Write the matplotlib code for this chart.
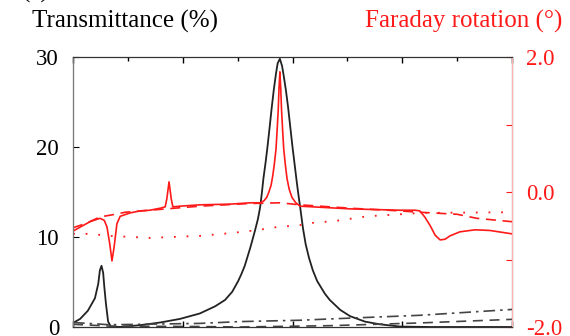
import numpy as np
import matplotlib
matplotlib.use("Agg")
import matplotlib.pyplot as plt
from matplotlib.ticker import MultipleLocator

plt.rcParams['font.family'] = ['Liberation Serif', 'DejaVu Serif']

# transmittance, solid black
x_t = [0.00, 0.13, 0.27, 0.40, 0.46, 0.49, 0.52, 0.55, 0.57, 0.60, 0.64, 0.69,
       0.86, 1.22, 1.59, 1.95, 2.31, 2.59, 2.77, 2.90, 3.01, 3.07, 3.13, 3.18,
       3.23, 3.28, 3.32, 3.37, 3.41, 3.44, 3.47, 3.51, 3.54, 3.58, 3.62, 3.66,
       3.70, 3.73, 3.77, 3.81, 3.84, 3.88, 3.92, 3.96, 4.00, 4.04, 4.08, 4.11,
       4.14, 4.19, 4.24, 4.30, 4.37, 4.45, 4.59, 4.68, 4.87, 5.05, 5.32, 5.59,
       5.96, 6.51, 7.23, 8.00]
trans = [0.45, 0.9, 1.8, 3.2, 4.8, 6.3, 6.8, 6.0, 4.5, 2.6, 0.6, 0.05,
         0.0, 0.2, 0.5, 0.9, 1.5, 2.3, 3.0, 3.9, 5.1, 5.9, 6.8, 7.8,
         8.8, 9.9, 10.8, 12.0, 13.3, 14.8, 16.5, 18.3, 19.8, 22.0, 24.3, 26.4,
         28.2, 29.3, 29.8, 29.0, 27.9, 26.3, 24.4, 22.2, 20.0, 18.0, 16.0, 14.6,
         13.3, 11.0, 9.2, 7.7, 6.3, 5.1, 3.7, 3.0, 1.9, 1.2, 0.6, 0.3,
         0.05, 0.0, 0.0, 0.0]

# transmittance, reference curves
x_t_ref = [0.00, 0.67, 2.31, 3.04, 4.14, 4.70, 6.32, 8.00]
trans_dash = [0.3, 0.1, 0.05, 0.0, 0.1, 0.15, 0.45, 0.85]
trans_dashdot = [0.5, 0.25, 0.4, 0.6, 0.75, 0.9, 1.3, 1.95]

# faraday rotation, solid red
x_f = [0.00, 0.13, 0.31, 0.49, 0.57, 0.62, 0.67, 0.71, 0.75, 0.80, 0.86, 1.04,
       1.22, 1.40, 1.59, 1.68, 1.71, 1.75, 1.79, 1.82, 1.95, 2.31, 2.86, 3.23,
       3.41, 3.48, 3.53, 3.57, 3.61, 3.64, 3.67, 3.70, 3.72, 3.74, 3.755, 3.77,
       3.785, 3.80, 3.82, 3.84, 3.87, 3.90, 3.94, 3.99, 4.06, 4.14, 5.05, 5.96,
       6.23, 6.32, 6.41, 6.51, 6.60, 6.69, 6.78, 6.87, 7.05, 7.33, 7.60, 8.00]
rot = [-0.58, -0.52, -0.44, -0.39, -0.42, -0.52, -0.77, -1.02, -0.81, -0.47, -0.36, -0.31,
       -0.28, -0.27, -0.24, -0.22, -0.10, 0.15, -0.10, -0.22, -0.21, -0.19, -0.18, -0.16,
       -0.16, -0.13, -0.08, 0.00, 0.10, 0.24, 0.42, 0.64, 0.92, 1.22, 1.55, 1.78,
       1.55, 1.22, 0.92, 0.64, 0.40, 0.20, 0.04, -0.08, -0.16, -0.21, -0.25, -0.27,
       -0.27, -0.28, -0.37, -0.50, -0.64, -0.71, -0.70, -0.65, -0.59, -0.56, -0.57, -0.62]

x_f_dash = [0.00, 0.22, 0.49, 0.77, 0.95, 1.40, 2.31, 3.23, 3.77, 4.14, 5.05, 5.96,
            6.32, 7.00, 7.36, 8.00]
rot_dash = [-0.53, -0.47, -0.37, -0.33, -0.30, -0.27, -0.21, -0.17, -0.16, -0.19, -0.24, -0.28,
            -0.30, -0.33, -0.39, -0.44]

x_f_dot = [0.00, 0.31, 0.67, 1.40, 2.31, 2.86, 3.41, 3.59, 4.14, 4.32, 4.77, 5.36,
           5.96, 6.32, 8.00]
rot_dot = [-0.62, -0.62, -0.65, -0.68, -0.65, -0.61, -0.56, -0.53, -0.49, -0.46, -0.43, -0.36,
           -0.33, -0.31, -0.30]

red = '#ff1a1a'
black = '#222222'
fs_title = 18
fs_tick = 16.5

fig = plt.figure(figsize=(5.7, 3.36), dpi=100)
ax = fig.add_axes([73/570, 1-327/336, 439/570, 270/336])
ax2 = ax.twinx()

ax.plot(x_t, trans, color=black, lw=1.3)
ax.plot(x_t_ref, trans_dash, color='#444444', lw=1.2, ls=(0, (6, 4)))
ax.plot(x_t_ref, trans_dashdot, color='#444444', lw=1.2, ls=(0, (7, 3, 1.5, 3)))

ax2.plot(x_f, rot, color=red, lw=1.2)
ax2.plot(x_f_dash, rot_dash, color=red, lw=1.2, ls=(0, (6, 4)))
ax2.plot(x_f_dot, rot_dot, color=red, lw=1.3, ls=(0, (1, 6)))

ax.set_xlim(0, 8)
ax.set_ylim(0, 30)
ax2.set_ylim(-2, 2)

ax.set_yticks([0, 10, 20, 30])
ax.xaxis.set_major_locator(MultipleLocator(2))
ax.xaxis.set_minor_locator(MultipleLocator(1))
ax.tick_params(axis='x', which='both', direction='in', top=True, bottom=True,
               labelbottom=False, length=4, width=1)
ax.tick_params(axis='x', which='minor', bottom=False, length=3)
ax.tick_params(axis='y', direction='in', length=4, labelsize=fs_tick, pad=10)

ax2.set_yticks([-2, -1, 0, 1, 2])
ax2.set_yticklabels(['-2.0', '', '0.0', '', '2.0'])
ax2.tick_params(axis='y', direction='in', length=4, colors=red, labelsize=fs_tick, pad=10)

for s in ['top', 'bottom']:
    ax2.spines[s].set_color('#333333')
ax2.spines['left'].set_color('#777777')
ax2.spines['right'].set_color('#ffb0b0')

fig.text(32/570, 1-28/336, 'Transmittance (%)', fontsize=fs_title, va='baseline', ha='left')
fig.text(562/570, 1-28/336, 'Faraday rotation (\u00b0)', fontsize=fs_title, va='baseline',
         ha='right', color=red)
fig.text(22/570, 1-3/336, '(a)', fontsize=fs_title, va='bottom', ha='left')

fig.savefig('out.png', dpi=100)
